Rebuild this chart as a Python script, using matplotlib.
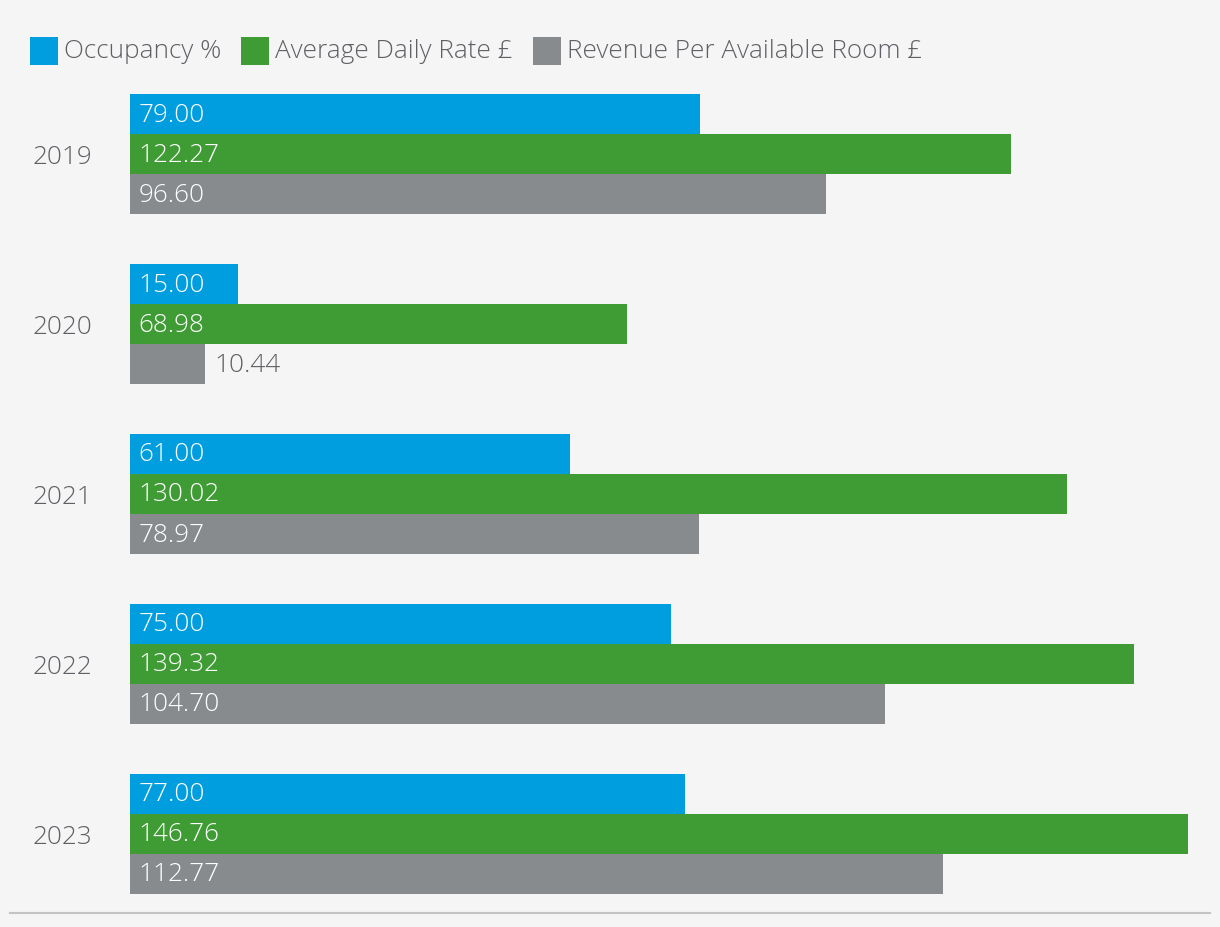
import matplotlib
matplotlib.use("Agg")
import matplotlib.pyplot as plt
from matplotlib.patches import Rectangle
from matplotlib.lines import Line2D

years = ["2019", "2020", "2021", "2022", "2023"]
series_names = ["Occupancy %", "Average Daily Rate £", "Revenue Per Available Room £"]
occupancy = [79.00, 15.00, 61.00, 75.00, 77.00]
adr = [122.27, 68.98, 130.02, 139.32, 146.76]
revpar = [96.60, 10.44, 78.97, 104.70, 112.77]
colors = ["#009ddf", "#3f9c35", "#888b8e"]

BG = "#f5f5f5"
TXT = "#5e6065"
FONT = ["Open Sans", "DejaVu Sans"]
FS = 18.8
W, H = 1220, 928

plt.rcParams["font.family"] = FONT
fig = plt.figure(figsize=(W / 100, H / 100), dpi=100, facecolor=BG)

px_per_unit = 1058 / 146.76
ax_left, ax_top, ax_bottom = 130, 85, 915
ax_w = 150 * px_per_unit
ax = fig.add_axes([ax_left / W, (H - ax_bottom) / H, ax_w / W, (ax_bottom - ax_top) / H])
ax.set_facecolor(BG)
ax.set_xlim(0, 150)
unit = 170.0
ax.set_ylim(4 + 80 / unit, -70 / unit)
bh = 40 / unit

series = [occupancy, adr, revpar]
for s_i, vals in enumerate(series):
    ys = [i + (s_i - 1) * bh for i in range(len(years))]
    ax.barh(ys, vals, height=bh, color=colors[s_i], linewidth=0)
    for y, v in zip(ys, vals):
        label = f"{v:.2f}"
        if v * px_per_unit > 90:
            ax.annotate(label, (0, y), xytext=(6, 0), textcoords="offset points",
                        ha="left", va="center", color="white", fontsize=FS,
                        fontweight="light")
        else:
            ax.annotate(label, (v, y), xytext=(6.5, 0), textcoords="offset points",
                        ha="left", va="center", color=TXT, fontsize=FS,
                        fontweight="light")

ax.set_yticks(range(len(years)))
ax.set_yticklabels(years, fontsize=FS, color=TXT, ha="left", fontweight="light")
ax.tick_params(axis="y", length=0, pad=(ax_left - 32) * 0.72)
ax.set_xticks([])
for sp in ax.spines.values():
    sp.set_visible(False)

# bottom rule
fig.add_artist(Line2D([10 / W, 1210 / W], [(H - 914) / H] * 2, color="#c4c4c4", lw=1.5))

# legend
renderer = fig.canvas.get_renderer()
x = 30
sq = 28
ytop = 38
for name, c in zip(series_names, colors):
    fig.add_artist(Rectangle((x / W, (H - ytop - sq) / H), sq / W, sq / H,
                             transform=fig.transFigure, color=c, lw=0))
    t = fig.text((x + sq + 6) / W, (H - ytop - sq / 2) / H, name, fontsize=FS,
                 color=TXT, ha="left", va="center", fontweight="light")
    bb = t.get_window_extent(renderer)
    x = bb.x1 + 20

fig.savefig("out.png", dpi=100, facecolor=BG)
